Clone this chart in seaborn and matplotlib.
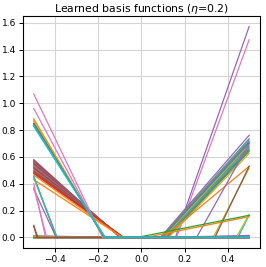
import matplotlib
matplotlib.use("Agg")
import matplotlib.pyplot as plt
import seaborn as sns

# basis functions that fall to zero on the left: value at x=-0.5, x where they hit 0
left_start = [0.012, 0.008, 0.010,
              0.580, 0.572, 0.565, 0.558, 0.550, 0.543, 0.536, 0.528, 0.520, 0.512, 0.503, 0.494, 0.485, 0.476,
              0.465, 0.430,
              0.360, 0.400, 0.370, 0.450, 0.445, 0.455, 0.090, 0.080,
              1.068, 0.960, 0.885, 0.875, 0.865, 0.850, 0.845, 0.840, 0.830]
left_kink = [-0.10, -0.15, -0.20,
             -0.100, -0.099, -0.097, -0.096, -0.095, -0.093, -0.092, -0.091, -0.089, -0.088, -0.087, -0.085, -0.084, -0.082,
             -0.090, -0.088,
             -0.396, -0.445, -0.440, -0.394, -0.392, -0.392, -0.485, -0.480,
             -0.180, -0.178, -0.175, -0.174, -0.173, -0.172, -0.171, -0.170, -0.169]
left_color = ["C7", "C2", "C8",
              "C4", "C3", "C5", "C7", "C3", "C5", "C4", "C7", "C3", "C5", "C7", "C3", "C5", "C3",
              "C1", "C1",
              "C4", "C6", "C6", "C3", "C8", "C9", "C3", "C5",
              "C6", "C6", "C8", "C1", "C8", "C3", "C0", "C7", "C9"]

# basis functions that rise on the right: x where they leave 0, value at x=0.5
right_kink = [0.448, 0.10,
              0.158, 0.163,
              0.088, 0.090, 0.095, 0.092, 0.100, 0.100, 0.105, 0.110, 0.110, 0.115, 0.120, 0.120, 0.126,
              0.103,
              0.256, 0.333, 0.341, 0.440,
              0.020, -0.020]
right_end = [0.165, 0.015,
             1.571, 1.472,
             0.761, 0.735, 0.725, 0.715, 0.705, 0.700, 0.690, 0.680, 0.670, 0.660, 0.650, 0.640, 0.625,
             0.530,
             0.700, 0.515, 0.530, 0.170,
             0.155, 0.165]
right_color = ["C9", "C4",
               "C4", "C6",
               "C4", "C7", "C9", "C7", "C0", "C7", "C8", "C7", "C9", "C7", "C2", "C7", "C8",
               "C1",
               "C4", "C8", "C5", "C8",
               "C1", "C2"]

fig, ax = plt.subplots(figsize=(2.66, 2.67), dpi=100)
fig.subplots_adjust(left=0.0865, right=0.977, bottom=0.0712, top=0.940)

for k, e, c in zip(right_kink, right_end, right_color):
    sns.lineplot(x=[-0.5, k, 0.5], y=[0, 0, e], color=c, lw=0.9, ax=ax)

for s, k, c in zip(left_start, left_kink, left_color):
    sns.lineplot(x=[-0.5, k, 0.5], y=[s, 0, 0], color=c, lw=0.9, ax=ax)

# last cyan function sits on top of the zero baseline
ax.lines[-1].set_linewidth(1.3)

ax.grid(True, color="#d4d4d4", lw=0.8)
ax.set_xticks([-0.4, -0.2, 0.0, 0.2, 0.4])
ax.set_yticks([0.0, 0.2, 0.4, 0.6, 0.8, 1.0, 1.2, 1.4, 1.6])
ax.tick_params(labelsize=6.5, length=3, width=0.7, pad=2)
ax.set_title(r"Learned basis functions ($\eta$=0.2)", fontsize=7.8, pad=3)
for sp in ax.spines.values():
    sp.set_linewidth(0.8)

fig.savefig("out.png", dpi=100)
